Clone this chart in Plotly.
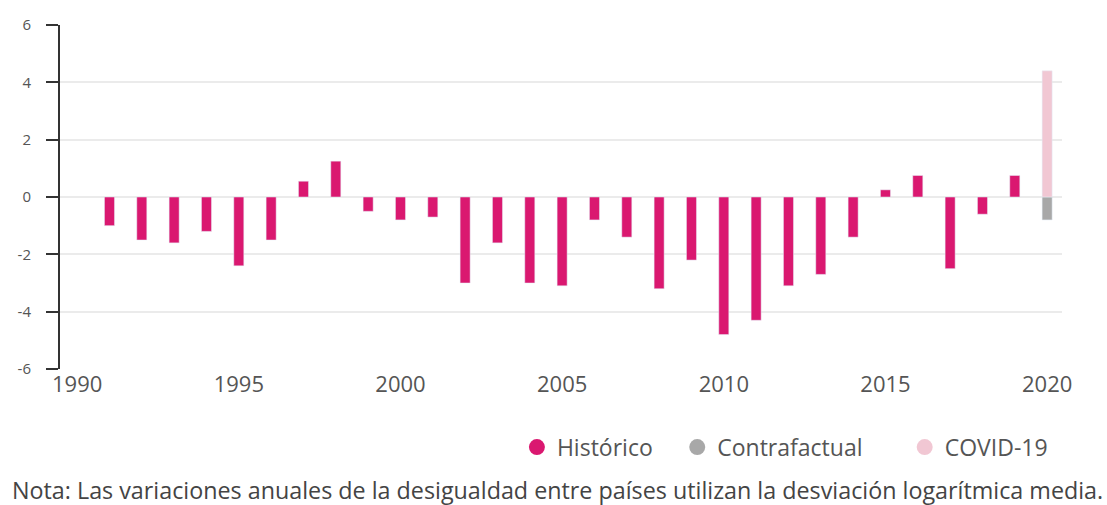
import plotly.graph_objects as go

years = list(range(1991, 2020))
historico = [-1.0, -1.5, -1.6, -1.2, -2.4, -1.5, 0.55, 1.25, -0.5, -0.8,
             -0.7, -3.0, -1.6, -3.0, -3.1, -0.8, -1.4, -3.2, -2.2, -4.8,
             -4.3, -3.1, -2.7, -1.4, 0.25, 0.75, -2.5, -0.6, 0.75]
year_2020 = [2020]
contrafactual = [-0.8]
covid = [4.4]

x_ticks = [1990, 1995, 2000, 2005, 2010, 2015, 2020]
y_ticks = [-6, -4, -2, 0, 2, 4, 6]
y_tick_text = ["-6", "-4", "-2", "0", "2", "4", "6"]

C_HIST = "#DA1870"
C_CONTRA = "#A8A8A8"
C_COVID = "#F1C7D3"
FONT = "Open Sans"

fig = go.Figure()
fig.add_trace(go.Bar(x=years, y=historico, marker_color=C_HIST, width=0.31,
                     showlegend=False, name="Histórico"))
fig.add_trace(go.Bar(x=year_2020, y=contrafactual, marker_color=C_CONTRA, width=0.31,
                     showlegend=False, name="Contrafactual"))
fig.add_trace(go.Bar(x=year_2020, y=covid, marker_color=C_COVID, width=0.31,
                     showlegend=False, name="COVID-19"))

legend_items = [("Histórico", C_HIST, "legend", 0.456),
                ("Contrafactual", C_CONTRA, "legend2", 0.616),
                ("COVID-19", C_COVID, "legend3", 0.843)]
legend_layout = {}
for name, col, lg, lx in legend_items:
    fig.add_trace(go.Scatter(x=[None], y=[None], mode="markers", name=name, legend=lg,
                             marker=dict(symbol="circle", size=16, color=col)))
    legend_layout[lg] = dict(orientation="h", xanchor="left", x=lx, yanchor="middle", y=-0.227,
                             font=dict(size=23, color="#555555"), itemwidth=30,
                             bgcolor="rgba(0,0,0,0)")

fig.update_layout(
    barmode="relative",
    width=1107, height=505,
    margin=dict(l=60, r=45, t=25, b=136),
    paper_bgcolor="white", plot_bgcolor="white",
    font=dict(family=FONT, color="#555555", size=15),
    xaxis=dict(range=[1989.47, 2020.46], tickvals=x_ticks, showgrid=False,
               zeroline=False, showline=False, ticks="",
               tickfont=dict(size=22, color="#555555")),
    yaxis=dict(range=[-6, 6], tickvals=y_ticks, ticktext=y_tick_text,
               showgrid=True, gridcolor="#EBEBEB", gridwidth=2,
               zeroline=True, zerolinecolor="#EBEBEB", zerolinewidth=2,
               showline=True, linecolor="#333333", linewidth=2,
               ticks="outside", ticklen=12, tickcolor="#333333", tickwidth=2,
               ticklabelstandoff=12,
               tickfont=dict(size=15, color="#555555")),
    annotations=[dict(
        text="Nota: Las variaciones anuales de la desigualdad entre países utilizan la desviación logarítmica media.",
        xref="paper", yref="paper", x=-0.05, y=-0.352, xanchor="left", yanchor="middle",
        showarrow=False, font=dict(size=23.3, color="#444444"))],
    **legend_layout,
)

fig.write_html("out.html", post_script="document.body.style.margin='0px';",
               config={"displayModeBar": False})
